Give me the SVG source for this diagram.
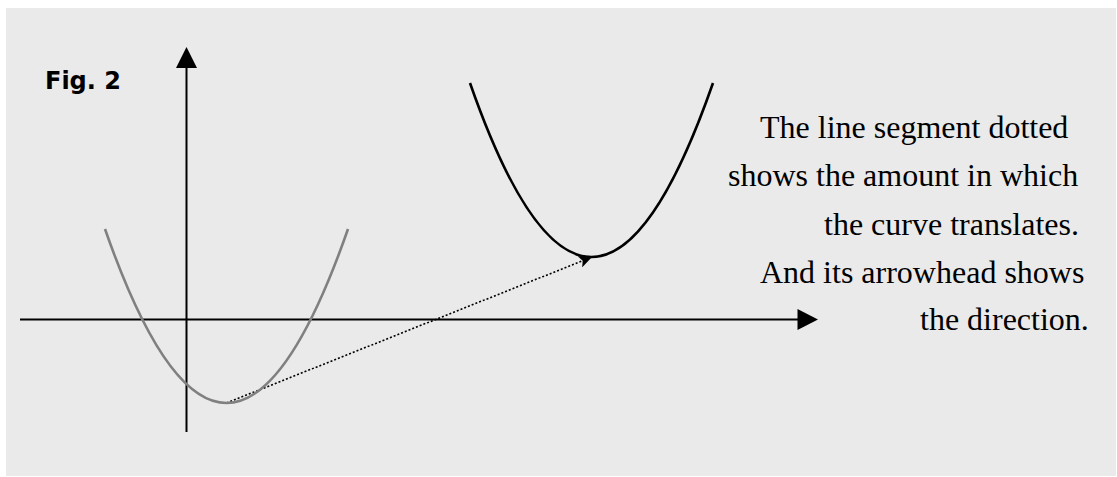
<svg xmlns="http://www.w3.org/2000/svg" width="1117" height="477" viewBox="0 0 1117 477">
<style>
.axis{stroke:#000;stroke-width:2;fill:none}
.curve{fill:none;stroke-width:2.6}
.txt{font-family:"Liberation Serif","Times New Roman",serif;font-size:32px;fill:#000}
.fig{font-family:"DejaVu Sans",Verdana,sans-serif;font-weight:bold;font-size:24px;fill:#000}
</style>
<defs>
<marker id="dotHead" markerWidth="14" markerHeight="12" refX="13" refY="6" orient="auto" markerUnits="userSpaceOnUse">
<path d="M0,0 L13,6 L0,12 L3,6 Z" fill="#000"/>
</marker>
</defs>
<rect x="6" y="8" width="1110" height="468" fill="#EAEAEA"/>
<g id="connectors">
<line class="axis" x1="186.5" y1="66" x2="186.5" y2="432"/>
<polygon points="176,68 197,68 186.5,47" fill="#000"/>
<line class="axis" x1="20" y1="319.5" x2="800" y2="319.5"/>
<polygon points="797.5,309 797.5,330 818,319.5" fill="#000"/>
<line x1="226.5" y1="403" x2="592" y2="257" stroke="#000" stroke-width="1.6" stroke-dasharray="2,2" marker-end="url(#dotHead)"/>
</g>
<g id="gray-curve">
<path class="curve" stroke="#808080" d="M105,229 Q226.5,577 348,229"/>
</g>
<g id="black-curve">
<path class="curve" stroke="#000" d="M470,83 Q591.5,431 713,83"/>
</g>
<g id="fig-label">
<text class="fig" x="45" y="89">Fig. 2</text>
</g>
<g id="description">
<text class="txt" x="760" y="138">The line segment dotted</text>
<text class="txt" x="728" y="186">shows the amount in which</text>
<text class="txt" x="824" y="235">the curve translates.</text>
<text class="txt" x="760" y="283">And its arrowhead shows</text>
<text class="txt" x="920" y="330">the direction.</text>
</g>
</svg>
